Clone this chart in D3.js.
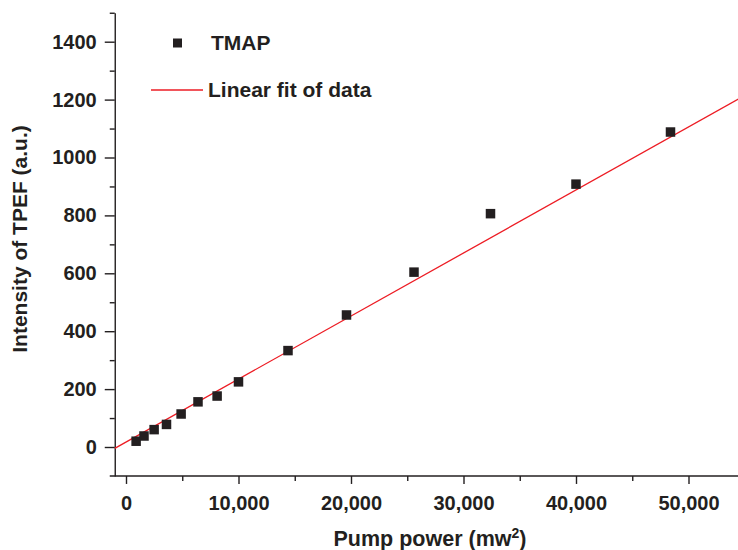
<!DOCTYPE html>
<html>
<head>
<meta charset="utf-8">
<script src="https://cdn.jsdelivr.net/npm/d3@7"></script>
<style>
  html, body { margin: 0; padding: 0; background: #ffffff; }
  svg { display: block; }
  text { font-family: "Liberation Sans", Arial, Helvetica, sans-serif; font-weight: bold; fill: #231f20; }
</style>
</head>
<body>
<svg id="chart" width="738" height="550"></svg>
<script>
// Two-photon excited fluorescence of TMAP versus squared pump power
const pumpPower = [900, 1600, 2500, 3600, 4900, 6400, 8100, 10000, 14400, 19600, 25600, 32400, 40000, 48400];
const intensity = [20, 38, 60, 78, 114, 156, 176, 225, 333, 456, 604, 806, 908, 1088];

// Linear fit coefficients (intensity = intercept + slope * power)
const fitIntercept = 17;
const fitSlope = 0.02177;
const fitRange = [-1000, 55000];

const xMajorTicks = [0, 10000, 20000, 30000, 40000, 50000];
const xMinorTicks = [5000, 15000, 25000, 35000, 45000];
const yMajorTicks = [0, 200, 400, 600, 800, 1000, 1200, 1400];
const yMinorTicks = [100, 300, 500, 700, 900, 1100, 1300, 1500];

const seriesName = "TMAP";
const fitName = "Linear fit of data";

const ink = "#231f20";
const fitColor = "#ed1c24";

const svg = d3.select("#chart");

const x = d3.scaleLinear().domain([-1000, 55000]).range([114.75, 744.75]);
const y = d3.scaleLinear().domain([-100, 1500]).range([475.95, 12.75]);

// Y axis: major ticks with labels, minor ticks without
const yAxisG = svg.append("g").attr("transform", `translate(${x(-1000)},0)`);
yAxisG.call(d3.axisLeft(y).tickValues(yMajorTicks).tickSize(10).tickSizeOuter(0).tickPadding(8).tickFormat(d3.format("d")));
const yMinorG = svg.append("g").attr("transform", `translate(${x(-1000)},0)`);
yMinorG.call(d3.axisLeft(y).tickValues(yMinorTicks).tickSize(5).tickSizeOuter(0).tickFormat(""));
yMinorG.select(".domain").remove();

// X axis
const xAxisG = svg.append("g").attr("transform", `translate(0,${y(-100)})`);
xAxisG.call(d3.axisBottom(x).tickValues(xMajorTicks).tickSize(8).tickSizeOuter(0).tickPadding(12).tickFormat(d3.format(",")));
xAxisG.select(".domain").remove();
const xMinorG = svg.append("g").attr("transform", `translate(0,${y(-100)})`);
xMinorG.call(d3.axisBottom(x).tickValues(xMinorTicks).tickSize(5).tickSizeOuter(0).tickFormat(""));
xMinorG.select(".domain").remove();
svg.append("line")
  .attr("x1", x(-1000) - 5).attr("x2", 738)
  .attr("y1", y(-100)).attr("y2", y(-100))
  .attr("stroke", ink).attr("stroke-width", 1.4);

svg.selectAll(".tick line, .domain").attr("stroke", ink).attr("stroke-width", 1.4);
svg.selectAll(".tick text").attr("font-size", 20).style("fill", ink);

// Fitted line
svg.append("line")
  .attr("x1", x(fitRange[0])).attr("y1", y(fitIntercept + fitSlope * fitRange[0]))
  .attr("x2", x(fitRange[1])).attr("y2", y(fitIntercept + fitSlope * fitRange[1]))
  .attr("stroke", fitColor).attr("stroke-width", 1.3);

// Data markers
const size = 9.5;
svg.append("g").selectAll("rect")
  .data(pumpPower.map((p, i) => ({ p, v: intensity[i] })))
  .join("rect")
  .attr("x", d => x(d.p) - size / 2)
  .attr("y", d => y(d.v) - size / 2)
  .attr("width", size).attr("height", size)
  .attr("fill", ink);

// Legend
const legend = svg.append("g");
legend.append("rect").attr("x", 173).attr("y", 38.5).attr("width", 9).attr("height", 9).attr("fill", ink);
legend.append("text").attr("x", 211).attr("y", 50).attr("font-size", 21).text(seriesName);
legend.append("line").attr("x1", 151).attr("x2", 203).attr("y1", 90).attr("y2", 90)
  .attr("stroke", fitColor).attr("stroke-width", 1.3);
legend.append("text").attr("x", 208).attr("y", 97).attr("font-size", 21).text(fitName);

// Axis titles
const xTitle = svg.append("text").attr("x", 430).attr("y", 546).attr("text-anchor", "middle").attr("font-size", 21.5);
xTitle.append("tspan").text("Pump power (mw");
xTitle.append("tspan").attr("font-size", 14).attr("dy", -8).text("2");
xTitle.append("tspan").attr("dy", 8).text(")");

svg.append("text")
  .attr("transform", "translate(27,239) rotate(-90)")
  .attr("text-anchor", "middle").attr("font-size", 21)
  .text("Intensity of TPEF (a.u.)");
</script>
</body>
</html>
